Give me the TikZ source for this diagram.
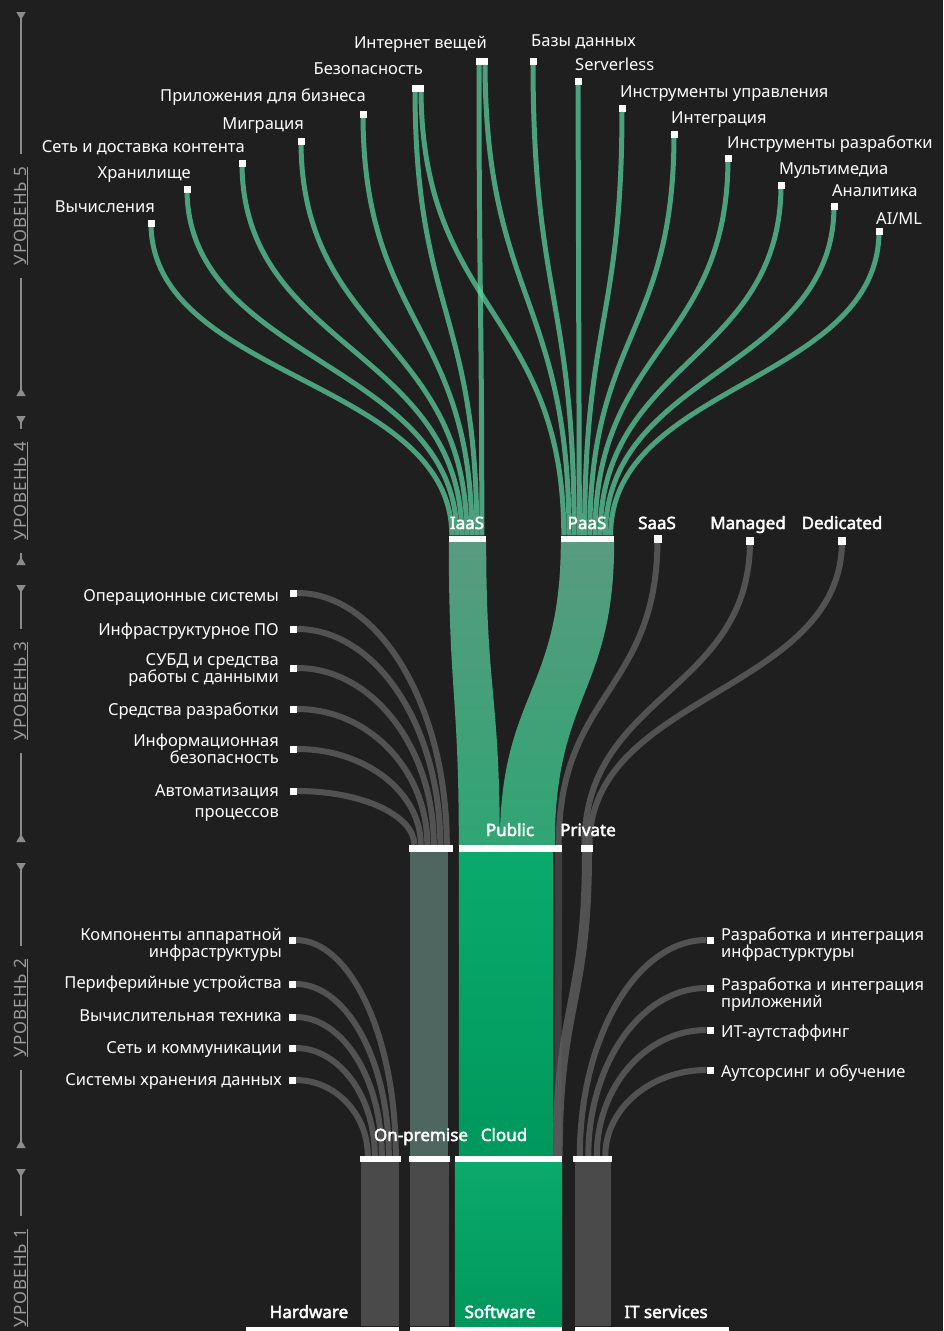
\documentclass[tikz,border=0pt]{standalone}
\usepackage{fontspec}
\setmainfont{Noto Sans}[AutoFakeBold=2.5]
\newfontfamily\lvlfont{Noto Sans}[LetterSpace=6]
\usetikzlibrary{arrows.meta,calc}

\definecolor{canvas}{HTML}{1F1F1F}
\definecolor{leaf}{RGB}{95,215,165}
\definecolor{wire}{RGB}{95,95,95}
\definecolor{bandtop}{RGB}{88,155,128}
\definecolor{bandbot}{RGB}{48,165,115}
\definecolor{cloudtop}{RGB}{10,170,108}
\definecolor{cloudbot}{RGB}{0,152,92}
\definecolor{onprem}{RGB}{79,101,96}
\definecolor{column}{RGB}{74,74,74}
\definecolor{axisgrey}{RGB}{140,140,140}
\definecolor{axistext}{RGB}{155,155,155}

\pgfdeclarelayer{bg}
\pgfdeclarelayer{links}
\pgfsetlayers{bg,links,main}

\begin{document}
\begin{tikzpicture}[x=1pt,y=-1pt,
  vcurve/.style={to path={let \p1=(\tikztostart), \p2=(\tikztotarget) in
    .. controls (\x1,{(\y1+\y2)/2}) and (\x2,{(\y1+\y2)/2}) .. (\tikztotarget)}},
  hcurve/.style={to path={let \p1=(\tikztostart), \p2=(\tikztotarget) in
    .. controls ({\x1+0.55*(\x2-\x1)},\y1) and (\x2,{\y2+0.55*(\y1-\y2)}) .. (\tikztotarget)}},
  leafline/.style={draw=leaf, draw opacity=0.7, line width=5pt},
  greyline/.style={draw=wire, draw opacity=0.8, line width=6pt},
  band/.style={top color=bandtop, bottom color=bandbot},
  cloudcol/.style={top color=cloudtop, bottom color=cloudbot},
  sq/.style={fill=white, inner sep=0pt, minimum width=7pt, minimum height=7pt},
  bigsq/.style={sq, minimum width=8pt, minimum height=8pt},
  bar/.style={fill=white, inner sep=0pt, minimum height=6pt},
  lbl/.style={text=white, inner sep=0pt, font=\fontsize{16.5}{17}\selectfont},
  head/.style={text=white, inner sep=0pt, anchor=base, font=\fontsize{17}{17}\selectfont\bfseries},
  lvl/.style={rotate=90, inner sep=0pt, outer sep=13pt, text=axistext, font=\lvlfont\fontsize{17}{17}\selectfont},
  axis/.style={draw=axisgrey, line width=1.5pt},
  lvltip/.tip={Triangle[reversed, width=9pt, length=8pt]}]

  \begin{pgfonlayer}{bg}
    \fill[canvas] (0,0) rectangle (943,1331);
  \end{pgfonlayer}
  \useasboundingbox (0,0) rectangle (943,1331);

  \coordinate (lvl5top) at (21,12);
  \coordinate (lvl5bot) at (21,396);
  \coordinate (lvl4top) at (21,416);
  \coordinate (lvl4bot) at (21,565);
  \coordinate (lvl3top) at (21,585);
  \coordinate (lvl3bot) at (21,842);
  \coordinate (lvl2top) at (21,863);
  \coordinate (lvl2bot) at (21,1148);
  \coordinate (lvl1top) at (21,1169);

  \node[lvl] (lvl5) at (21,216) {\underline{УРОВЕНЬ 5}};
  \node[lvl] (lvl4) at (21,491) {\underline{УРОВЕНЬ 4}};
  \node[lvl] (lvl3) at (21,691) {\underline{УРОВЕНЬ 3}};
  \node[lvl] (lvl2) at (21,1008) {\underline{УРОВЕНЬ 2}};
  \node[lvl] (lvl1) at (21,1278) {\underline{УРОВЕНЬ 1}};

  \draw[axis, {lvltip}-] (lvl5top) -- (lvl5.east);
  \draw[axis, -{lvltip}] (lvl5.west) -- (lvl5bot);
  \draw[axis, {lvltip}-] (lvl4top) -- (lvl4.east);
  \draw[axis, -{lvltip}] (lvl4.west) -- (lvl4bot);
  \draw[axis, {lvltip}-] (lvl3top) -- (lvl3.east);
  \draw[axis, -{lvltip}] (lvl3.west) -- (lvl3bot);
  \draw[axis, {lvltip}-] (lvl2top) -- (lvl2.east);
  \draw[axis, -{lvltip}] (lvl2.west) -- (lvl2bot);
  \draw[axis, {lvltip}-] (lvl1top) -- (lvl1.east);

  \node[sq] (compute) at (151,223) {};
  \node[sq] (storage) at (187,189) {};
  \node[sq] (cdn) at (242,163) {};
  \node[sq] (migration) at (301,141) {};
  \node[sq] (bizapps) at (363,114) {};
  \node[sq, minimum width=12pt] (security) at (418,88) {};
  \node[sq, minimum width=12pt] (iot) at (482,61) {};
  \node[sq] (databases) at (533,61) {};
  \node[sq] (serverless) at (578,81) {};
  \node[sq] (mgmt) at (622,108) {};
  \node[sq] (integration) at (674,134) {};
  \node[sq] (devtools) at (728,158) {};
  \node[sq] (media) at (781,185) {};
  \node[sq] (analytics) at (834,206) {};
  \node[sq] (aiml) at (879,231) {};

  \node[lbl, anchor=base east] (compute-t) at (155,212) {Вычисления};
  \node[lbl, anchor=base east] (storage-t) at (191,178) {Хранилище};
  \node[lbl, anchor=base east] (cdn-t) at (245,152) {Сеть и доставка контента};
  \node[lbl, anchor=base east] (migration-t) at (304,129) {Миграция};
  \node[lbl, anchor=base east] (bizapps-t) at (366,101) {Приложения для бизнеса};
  \node[lbl, anchor=base east] (security-t) at (423,74) {Безопасность};
  \node[lbl, anchor=base east] (iot-t) at (487,48) {Интернет вещей};
  \node[lbl, anchor=base west] (databases-t) at (531,46.5) {Базы данных};
  \node[lbl, anchor=base west] (serverless-t) at (575,70.5) {Serverless};
  \node[lbl, anchor=base west] (mgmt-t) at (620,97) {Инструменты управления};
  \node[lbl, anchor=base west] (integration-t) at (671,123) {Интеграция};
  \node[lbl, anchor=base west] (devtools-t) at (727,148) {Инструменты разработки};
  \node[lbl, anchor=base west] (media-t) at (779,174.5) {Мультимедиа};
  \node[lbl, anchor=base west] (analytics-t) at (832,196.5) {Аналитика};
  \node[lbl, anchor=base west] (aiml-t) at (876,224.5) {AI/ML};

  \node[bar, minimum width=37pt] (iaas) at (467.5,538.5) {};
  \node[bar, minimum width=53pt] (paas) at (587.5,538.5) {};
  \node[bigsq] (saas) at (657.5,539) {};
  \node[bigsq] (managed) at (750,541) {};
  \node[bigsq] (dedicated) at (842,541) {};
  \node[head] (iaas-t) at (467,529) {IaaS};
  \node[head] (paas-t) at (587,529) {PaaS};
  \node[head] (saas-t) at (657,529) {SaaS};
  \node[head] (managed-t) at (748,529) {Managed};
  \node[head] (dedicated-t) at (842,529) {Dedicated};

  \node[bar, minimum width=44pt, minimum height=7pt] (onprem3) at (431,848.5) {};
  \node[bar, minimum width=103pt, minimum height=7pt] (public) at (510.5,848.5) {};
  \node[bar, minimum width=12pt, minimum height=7pt] (private) at (587,848.5) {};
  \node[head] (public-t) at (510,836) {Public};
  \node[head] (private-t) at (588,836) {Private};

  \node[sq] (os) at (293.5,593) {};
  \node[sq] (infrasw) at (293.5,629) {};
  \node[sq] (dbms) at (293.5,668) {};
  \node[sq] (devsw) at (293.5,709) {};
  \node[sq] (infosec) at (293.5,749) {};
  \node[sq] (rpa) at (293.5,791) {};
  \node[lbl, anchor=base east] (os-t) at (279,601) {Операционные системы};
  \node[lbl, anchor=base east] (infrasw-t) at (279,635) {Инфраструктурное ПО};
  \node[lbl, anchor=east, align=right] (dbms-t) at (279,670) {СУБД и средства\\работы с данными};
  \node[lbl, anchor=base east] (devsw-t) at (279,715) {Средства разработки};
  \node[lbl, anchor=east, align=right] (infosec-t) at (279,749) {Информационная\\безопасность};
  \node[lbl, anchor=east, align=right] (rpa-t) at (279,803) {Автоматизация\\[4pt]процессов};

  \node[bar, minimum width=41pt] (hwbar) at (380.5,1159) {};
  \node[bar, minimum width=41pt] (onprem2) at (429.5,1159) {};
  \node[bar, minimum width=107pt] (cloud) at (508.5,1159) {};
  \node[bar, minimum width=39pt] (svcbar) at (592.5,1159) {};
  \node[head] (onprem2-t) at (421,1141) {On-premise};
  \node[head] (cloud-t) at (504,1141) {Cloud};

  \node[sq] (hwparts) at (292,940) {};
  \node[sq] (periph) at (292,984) {};
  \node[sq] (computers) at (292,1017) {};
  \node[sq] (network) at (292,1048) {};
  \node[sq] (storsys) at (292,1080) {};
  \node[lbl, anchor=east, align=right] (hwparts-t) at (282,945) {Компоненты аппаратной\\инфраструктуры};
  \node[lbl, anchor=base east] (periph-t) at (282,988) {Периферийные устройства};
  \node[lbl, anchor=base east] (computers-t) at (282,1021) {Вычислительная техника};
  \node[lbl, anchor=base east] (network-t) at (282,1053) {Сеть и коммуникации};
  \node[lbl, anchor=base east] (storsys-t) at (282,1085) {Системы хранения данных};

  \node[sq] (infraint) at (710,940) {};
  \node[sq] (appint) at (710,988) {};
  \node[sq] (outstaff) at (710,1030) {};
  \node[sq] (outsrc) at (710,1070) {};
  \node[lbl, anchor=west, align=left] (infraint-t) at (721,945) {Разработка и интеграция\\инфрастурктуры};
  \node[lbl, anchor=west, align=left] (appint-t) at (721,995) {Разработка и интеграция\\приложений};
  \node[lbl, anchor=base west] (outstaff-t) at (721,1037) {ИТ-аутстаффинг};
  \node[lbl, anchor=base west] (outsrc-t) at (721,1077) {Аутсорсинг и обучение};

  \node[bar, minimum width=153pt] (hardware) at (322.5,1329.5) {};
  \node[bar, minimum width=152pt] (software) at (486,1329.5) {};
  \node[bar, minimum width=154pt] (itsvc) at (652,1329.5) {};
  \node[head] (hardware-t) at (309,1318) {Hardware};
  \node[head] (software-t) at (500,1318) {Software};
  \node[head] (itsvc-t) at (666,1318) {IT services};

  \begin{pgfonlayer}{links}
    \fill[column] ([xshift=1pt]hwbar.south west) rectangle ([xshift=-2pt]hwbar.east |- hardware.north);
    \fill[column] ([xshift=1pt]onprem2.south west) rectangle ([xshift=-1pt]onprem2.east |- software.north);
    \path[cloudcol] (cloud.south west) rectangle (cloud.east |- software.north);
    \fill[column] ([xshift=2pt]svcbar.south west) rectangle ([xshift=-1pt]svcbar.east |- itsvc.north);

    \fill[onprem] ([xshift=1pt]onprem3.south west) rectangle ([xshift=-2pt]onprem2.north east);
    \path[cloudcol] (public.south west) rectangle ([xshift=-9pt]cloud.north east);
    \draw[greyline, line width=7pt, draw opacity=0.5] ([xshift=-3.5pt]public.south east) -- ([xshift=-4.5pt]cloud.north east);
    \draw[greyline, line width=10pt] (private.south) to[vcurve] ([xshift=-4.5pt]cloud.north east);

    \path[band] (iaas.south west) to[vcurve] (public.north west) -- ([xshift=41pt]public.north west) to[vcurve] (iaas.south east) -- cycle;
    \path[band] (paas.south west) to[vcurve] ([xshift=41pt]public.north west) -- ([xshift=96pt]public.north west) to[vcurve] (paas.south east) -- cycle;

    \draw[greyline] (saas.center) to[vcurve] ([xshift=-3.5pt]public.north east);
    \draw[greyline] (managed.center) to[vcurve] ([xshift=-2.5pt]private.north);
    \draw[greyline] (dedicated.center) to[vcurve] ([xshift=2.5pt]private.north);

    \draw[leafline] (compute.center) to[vcurve] ([xshift=3pt]iaas.north west);
    \draw[leafline] (storage.center) to[vcurve] ([xshift=8pt]iaas.north west);
    \draw[leafline] (cdn.center) to[vcurve] ([xshift=13pt]iaas.north west);
    \draw[leafline] (migration.center) to[vcurve] ([xshift=18pt]iaas.north west);
    \draw[leafline] (bizapps.center) to[vcurve] ([xshift=23pt]iaas.north west);
    \draw[leafline] ([xshift=-3pt]security.center) to[vcurve] ([xshift=28pt]iaas.north west);
    \draw[leafline] ([xshift=-3pt]iot.center) to[vcurve] ([xshift=33pt]iaas.north west);

    \draw[leafline] ([xshift=3pt]security.center) to[vcurve] ([xshift=3pt]paas.north west);
    \draw[leafline] ([xshift=3pt]iot.center) to[vcurve] ([xshift=8.2pt]paas.north west);
    \draw[leafline] (databases.center) to[vcurve] ([xshift=13.4pt]paas.north west);
    \draw[leafline] (serverless.center) to[vcurve] ([xshift=18.6pt]paas.north west);
    \draw[leafline] (mgmt.center) to[vcurve] ([xshift=23.8pt]paas.north west);
    \draw[leafline] (integration.center) to[vcurve] ([xshift=29pt]paas.north west);
    \draw[leafline] (devtools.center) to[vcurve] ([xshift=34.2pt]paas.north west);
    \draw[leafline] (media.center) to[vcurve] ([xshift=39.4pt]paas.north west);
    \draw[leafline] (analytics.center) to[vcurve] ([xshift=44.6pt]paas.north west);
    \draw[leafline] (aiml.center) to[vcurve] ([xshift=49.8pt]paas.north west);

    \draw[greyline] (os.east) to[hcurve] ([xshift=38pt]onprem3.north west);
    \draw[greyline] (infrasw.east) to[hcurve] ([xshift=31.5pt]onprem3.north west);
    \draw[greyline] (dbms.east) to[hcurve] ([xshift=25pt]onprem3.north west);
    \draw[greyline] (devsw.east) to[hcurve] ([xshift=18.5pt]onprem3.north west);
    \draw[greyline] (infosec.east) to[hcurve] ([xshift=12pt]onprem3.north west);
    \draw[greyline] (rpa.east) to[hcurve] ([xshift=5.5pt]onprem3.north west);

    \draw[greyline] (hwparts.east) to[hcurve] ([xshift=36pt]hwbar.north west);
    \draw[greyline] (periph.east) to[hcurve] ([xshift=29pt]hwbar.north west);
    \draw[greyline] (computers.east) to[hcurve] ([xshift=22pt]hwbar.north west);
    \draw[greyline] (network.east) to[hcurve] ([xshift=15pt]hwbar.north west);
    \draw[greyline] (storsys.east) to[hcurve] ([xshift=8pt]hwbar.north west);

    \draw[greyline] (infraint.west) to[hcurve] ([xshift=7pt]svcbar.north west);
    \draw[greyline] (appint.west) to[hcurve] ([xshift=15.5pt]svcbar.north west);
    \draw[greyline] (outstaff.west) to[hcurve] ([xshift=24pt]svcbar.north west);
    \draw[greyline] (outsrc.west) to[hcurve] ([xshift=32.5pt]svcbar.north west);
  \end{pgfonlayer}

\end{tikzpicture}
\end{document}
